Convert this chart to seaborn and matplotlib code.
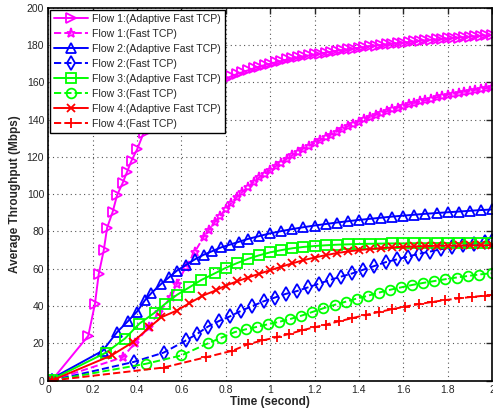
import numpy as np
import pandas as pd
import seaborn as sns
import matplotlib.pyplot as plt
from matplotlib.ticker import FormatStrFormatter, MultipleLocator

# Flow 1 (Adaptive Fast TCP)
t_f1a = [0.015, 0.18, 0.21, 0.227, 0.25, 0.265, 0.29, 0.31, 0.335, 0.355, 0.375, 0.40, 0.43, 0.46,
         0.475, 0.5, 0.525, 0.55, 0.575, 0.6, 0.625, 0.65, 0.675, 0.7, 0.725, 0.75, 0.775, 0.8,
         0.825, 0.85, 0.875, 0.9, 0.925, 0.95, 0.975, 1.0, 1.025, 1.05, 1.075, 1.1, 1.125, 1.15,
         1.175, 1.2, 1.225, 1.25, 1.275, 1.3, 1.325, 1.35, 1.375, 1.4, 1.425, 1.45, 1.475, 1.5,
         1.525, 1.55, 1.575, 1.6, 1.625, 1.65, 1.675, 1.7, 1.725, 1.75, 1.775, 1.8, 1.825, 1.85,
         1.875, 1.9, 1.925, 1.95, 1.975, 2.0]
y_f1a = [0, 24, 41, 57, 70, 82, 90.5, 99.5, 106, 112, 118, 124, 133, 138,
         140, 142, 144, 146, 148, 150, 152, 153.5, 155, 156.5, 158, 159.5, 161, 162,
         163.3, 164.5, 165.5, 166.5, 167.5, 168.5, 169.3, 170, 170.8, 171.5, 172.3, 173, 173.5, 174,
         174.5, 175, 175.5, 176, 176.5, 177, 177.4, 177.8, 178.2, 178.6, 179, 179.4, 179.8, 180.1,
         180.5, 180.8, 181.1, 181.4, 181.7, 182, 182.3, 182.6, 182.9, 183.1, 183.4, 183.6, 183.9, 184.1,
         184.3, 184.5, 184.8, 185, 185.2, 185.4]

# Flow 1 (Fast TCP)
t_f1f = [0.015, 0.335, 0.39, 0.455, 0.5, 0.555, 0.58, 0.62, 0.66, 0.7, 0.725, 0.75, 0.775, 0.8,
         0.825, 0.85, 0.875, 0.9, 0.925, 0.95, 0.975, 1.0, 1.025, 1.05, 1.075, 1.1, 1.125, 1.15,
         1.175, 1.2, 1.225, 1.25, 1.275, 1.3, 1.325, 1.35, 1.375, 1.4, 1.425, 1.45, 1.475, 1.5,
         1.525, 1.55, 1.575, 1.6, 1.625, 1.65, 1.675, 1.7, 1.725, 1.75, 1.775, 1.8, 1.825, 1.85,
         1.875, 1.9, 1.925, 1.95, 1.975, 2.0]
y_f1f = [0, 12.5, 20, 29, 37, 45, 52, 61, 69, 77, 81, 85, 88.5, 92,
         95.3, 98.5, 101.3, 104, 106.5, 109, 111, 113, 115, 117, 119, 121, 122.8, 124.5,
         126, 127.5, 129, 130.5, 132, 133.5, 135, 136.5, 137.8, 139, 140.3, 141.5, 142.5, 143.5,
         144.5, 145.5, 146.4, 147.3, 148.2, 149, 149.8, 150.5, 151.3, 152, 152.7, 153.3, 153.9, 154.5,
         155, 155.5, 156, 156.5, 157, 157.5]

# Flow 2 (Adaptive Fast TCP)
t_f2a = [0.015, 0.245, 0.31, 0.36, 0.40, 0.435, 0.465, 0.51, 0.545, 0.58, 0.62, 0.66, 0.7, 0.74, 0.78,
         0.82, 0.86, 0.9, 0.95, 1.0, 1.05, 1.1, 1.15, 1.2, 1.25, 1.3, 1.35, 1.4, 1.45, 1.5, 1.55,
         1.6, 1.65, 1.7, 1.75, 1.8, 1.85, 1.9, 1.95, 2.0]
y_f2a = [1, 16, 26, 32, 37, 43, 47, 52, 55.5, 59, 62, 65, 67.5, 69.5, 71.5,
         73, 74.5, 76, 77.5, 79, 80.2, 81.3, 82.3, 83.2, 84, 84.8, 85.5, 86.2, 86.8, 87.4, 88,
         88.5, 89, 89.5, 89.9, 90.3, 90.7, 91.1, 91.5, 91.8]

# Flow 2 (Fast TCP)
t_f2f = [0.015, 0.385, 0.52, 0.62, 0.67, 0.72, 0.77, 0.82, 0.87, 0.92, 0.97, 1.02, 1.07, 1.12, 1.17,
         1.22, 1.27, 1.32, 1.37, 1.42, 1.47, 1.52, 1.57, 1.62, 1.67, 1.72, 1.77, 1.82, 1.87, 1.92,
         1.97, 2.0]
y_f2f = [0, 10, 15, 21.5, 25, 29, 32, 34.5, 37.5, 40, 42.5, 44.5, 46.5, 48, 50,
         52, 54, 55.8, 57.5, 59.5, 61.5, 63.5, 65, 66.5, 68, 69.2, 70.5, 71.5, 72.5, 73.5,
         74.3, 74.8]

# Flow 3 (Adaptive Fast TCP)
t_f3a = [0.015, 0.26, 0.345, 0.41, 0.48, 0.525, 0.58, 0.635, 0.69, 0.75, 0.8, 0.85, 0.9, 0.95, 1.0,
         1.05, 1.1, 1.15, 1.2, 1.25, 1.3, 1.35, 1.4, 1.45, 1.5, 1.55, 1.6, 1.65, 1.7, 1.75, 1.8,
         1.85, 1.9, 1.95, 2.0]
y_f3a = [0.5, 15, 22.5, 30.5, 36.5, 41, 46, 50, 54, 57.5, 60.5, 63, 65.3, 67.2, 68.8,
         70, 71, 71.7, 72.2, 72.6, 72.9, 73.1, 73.3, 73.4, 73.5, 73.6, 73.6, 73.7, 73.7, 73.8, 73.8,
         73.8, 73.9, 73.9, 73.9]

# Flow 3 (Fast TCP)
t_f3f = [0.015, 0.44, 0.6, 0.72, 0.78, 0.84, 0.89, 0.94, 0.99, 1.04, 1.09, 1.14, 1.19, 1.24, 1.29,
         1.34, 1.39, 1.44, 1.49, 1.54, 1.59, 1.64, 1.69, 1.74, 1.79, 1.84, 1.89, 1.94, 2.0]
y_f3f = [0, 9, 13.5, 20, 23, 26, 27.5, 28.8, 30.2, 31.5, 33, 34.8, 36.8, 38.8, 40.6,
         42.3, 44, 45.5, 47.2, 48.7, 50, 51.3, 52.4, 53.4, 54.4, 55.3, 56.1, 56.9, 57.6]

# Flow 4 (Adaptive Fast TCP)
t_f4a = [0.015, 0.285, 0.38, 0.455, 0.51, 0.578, 0.636, 0.695, 0.757, 0.8, 0.85, 0.9, 0.95, 1.0, 1.05,
         1.1, 1.15, 1.2, 1.25, 1.3, 1.35, 1.4, 1.45, 1.5, 1.55, 1.6, 1.65, 1.7, 1.75, 1.8, 1.85,
         1.9, 1.95, 2.0]
y_f4a = [0, 13.5, 20.5, 28.5, 34, 37.5, 41.5, 45.5, 48.5, 51, 53.2, 55.3, 57.3, 59.2, 61.1,
         62.9, 64.6, 66, 67.3, 68.4, 69.3, 70, 70.6, 71.1, 71.5, 71.8, 72, 72.2, 72.3, 72.4, 72.5,
         72.5, 72.6, 72.6]

# Flow 4 (Fast TCP)
t_f4f = [0.015, 0.52, 0.71, 0.83, 0.9, 0.965, 1.03, 1.085, 1.145, 1.2, 1.25, 1.31, 1.37, 1.43, 1.49,
         1.55, 1.61, 1.67, 1.73, 1.79, 1.85, 1.91, 1.97, 2.0]
y_f4f = [0, 7, 12.5, 16, 19.5, 21.5, 23.3, 25, 27, 28.6, 30, 31.8, 33.5, 35.2, 36.8,
         38.3, 39.7, 41, 42.2, 43.2, 44.1, 44.9, 45.6, 45.9]

labels = ["Flow 1:(Adaptive Fast TCP)", "Flow 1:(Fast TCP)",
          "Flow 2:(Adaptive Fast TCP)", "Flow 2:(Fast TCP)",
          "Flow 3:(Adaptive Fast TCP)", "Flow 3:(Fast TCP)",
          "Flow 4:(Adaptive Fast TCP)", "Flow 4:(Fast TCP)"]
times = [t_f1a, t_f1f, t_f2a, t_f2f, t_f3a, t_f3f, t_f4a, t_f4f]
values = [y_f1a, y_f1f, y_f2a, y_f2f, y_f3a, y_f3f, y_f4a, y_f4f]
colors = ["#ff00ff", "#ff00ff", "#0000ff", "#0000ff", "#00ff00", "#00ff00", "#ff0000", "#ff0000"]
markers = [">", "*", "^", "d", "s", "o", "x", "+"]
styles = ["-", "--", "-", "--", "-", "--", "-", "--"]
msizes = [7, 6.5, 7, 7, 6.5, 7, 6, 7]

sns.set_style("white")
plt.rcParams["font.family"] = ["Liberation Sans", "DejaVu Sans"]

fig = plt.figure(figsize=(4.93, 4.15), dpi=100)
ax = fig.add_axes([0.098, 0.083, 0.9, 0.898])

for t, v, lab, c, m, ls, ms in zip(times, values, labels, colors, markers, styles, msizes):
    line_kw = dict(linestyle=ls, linewidth=1.4, marker=m, markersize=ms,
                   markerfacecolor="none", markeredgecolor=c, markeredgewidth=1.3)
    if ls == "--":
        line_kw["dashes"] = (4, 2.5)
    sns.lineplot(x=t, y=v, color=c, label=lab, ax=ax, estimator=None, sort=False, **line_kw)

ax.set_xlim(0, 2)
ax.set_ylim(0, 200)
ax.xaxis.set_major_locator(MultipleLocator(0.2))
ax.yaxis.set_major_locator(MultipleLocator(20))
ax.xaxis.set_major_formatter(FormatStrFormatter("%g"))
ax.grid(True, linestyle=(0, (1, 3)), color="#555555", linewidth=0.8)
ax.tick_params(direction="in", top=True, right=True, length=4, width=1, labelsize=7.5, pad=3)
for s in ax.spines.values():
    s.set_color("black")
    s.set_linewidth(1.2)

ax.set_xlabel("Time (second)", fontsize=8.5, fontweight="bold", labelpad=1)
ax.set_ylabel("Average Throughput (Mbps)", fontsize=8.5, fontweight="bold", labelpad=4)

leg = ax.legend(loc="upper left", fontsize=7.6, handlelength=3.2, fancybox=False, framealpha=1,
                edgecolor="black", borderpad=0.35, labelspacing=0.48, handletextpad=0.4,
                borderaxespad=0.2)
leg.get_frame().set_linewidth(1.0)

plt.savefig("out.png", dpi=100)
